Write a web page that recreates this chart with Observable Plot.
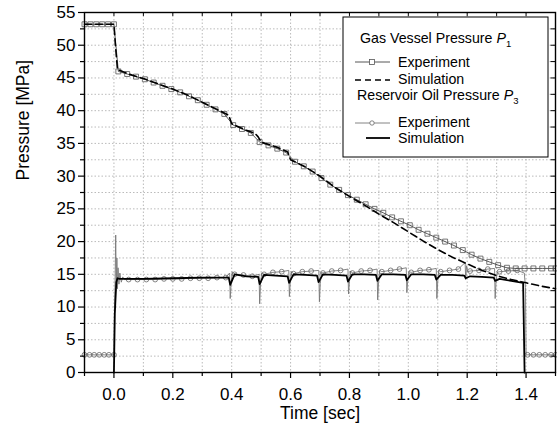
<!DOCTYPE html>
<html>
<head>
<meta charset="utf-8">
<script src="https://cdn.jsdelivr.net/npm/d3@7"></script>
<script src="https://cdn.jsdelivr.net/npm/@observablehq/plot@0.6"></script>
<style>
  html, body { margin: 0; padding: 0; background: #fff; }
  #chart { position: relative; width: 557px; height: 435px; }
  svg text { font-family: "Liberation Sans", Arial, sans-serif; }
</style>
</head>
<body>
<div id="chart"></div>
<script>
// ---- Gas vessel pressure P1, experiment (squares) ----
const p1ExpT = [-0.1, -0.08, -0.06, -0.04, -0.02, 0.0, 0.015, 0.045, 0.075, 0.105, 0.135, 0.165, 0.195, 0.225, 0.255, 0.285, 0.315, 0.345, 0.375, 0.405, 0.435, 0.465, 0.495, 0.525, 0.555, 0.585, 0.615, 0.645, 0.675, 0.705, 0.735, 0.765, 0.795, 0.825, 0.855, 0.885, 0.915, 0.945, 0.975, 1.005, 1.035, 1.065, 1.095, 1.125, 1.155, 1.185, 1.215, 1.245, 1.275, 1.305, 1.335, 1.365, 1.395, 1.425, 1.455, 1.485, 1.5];
const p1ExpV = [53.2, 53.2, 53.2, 53.2, 53.2, 53.2, 46.0, 45.6, 45.2, 44.8, 44.3, 43.8, 43.3, 42.8, 42.2, 41.6, 40.9, 40.2, 39.5, 37.8, 37.2, 36.6, 35.2, 34.7, 34.2, 33.6, 32.2, 31.5, 30.7, 29.7, 28.7, 27.9, 27.1, 26.4, 25.7, 25.0, 24.4, 23.7, 23.1, 22.5, 21.8, 21.2, 20.6, 20.0, 19.4, 18.7, 18.0, 17.4, 16.9, 16.4, 16.0, 15.9, 15.9, 15.9, 15.9, 15.9, 15.9];

// ---- Gas vessel pressure P1, simulation (dashed) ----
const p1SimT = [-0.1, 0.0, 0.005, 0.012, 0.05, 0.1, 0.15, 0.2, 0.25, 0.3, 0.35, 0.39, 0.40, 0.45, 0.48, 0.49, 0.5, 0.55, 0.59, 0.6, 0.65, 0.7, 0.75, 0.8, 0.85, 0.9, 0.95, 1.0, 1.05, 1.1, 1.15, 1.2, 1.25, 1.3, 1.35, 1.4, 1.45, 1.5];
const p1SimV = [53.2, 53.2, 50.0, 46.3, 45.6, 44.9, 44.1, 43.3, 42.4, 41.3, 40.2, 39.3, 38.0, 37.0, 36.5, 36.0, 35.2, 34.5, 33.7, 32.5, 31.4, 30.0, 28.3, 26.9, 25.6, 24.2, 22.9, 21.5, 20.1, 18.8, 17.6, 16.6, 15.6, 14.8, 14.2, 13.7, 13.2, 12.8];

// ---- Reservoir oil pressure P3, experiment (circles) ----
const p3ExpT = [-0.1, -0.083, -0.067, -0.05, -0.033, -0.017, 0.0, 0.05, 0.08, 0.11, 0.14, 0.17, 0.2, 0.23, 0.26, 0.29, 0.32, 0.35, 0.38, 0.41, 0.44, 0.47, 0.51, 0.54, 0.57, 0.61, 0.64, 0.67, 0.71, 0.74, 0.77, 0.81, 0.84, 0.87, 0.91, 0.94, 0.97, 1.01, 1.04, 1.07, 1.11, 1.14, 1.17, 1.21, 1.24, 1.27, 1.31, 1.34, 1.37, 1.405, 1.425, 1.445, 1.465, 1.485, 1.5];
const p3ExpV = [2.7, 2.7, 2.7, 2.7, 2.7, 2.7, 2.7, 14.2, 14.2, 14.2, 14.2, 14.3, 14.3, 14.3, 14.4, 14.4, 14.4, 14.5, 14.5, 15.0, 14.9, 14.7, 15.0, 15.3, 15.4, 15.1, 15.4, 15.5, 15.2, 15.5, 15.6, 15.2, 15.5, 15.6, 15.4, 15.6, 15.8, 15.3, 15.6, 15.7, 15.4, 15.6, 15.8, 15.5, 15.6, 15.8, 15.4, 15.5, 15.6, 2.7, 2.7, 2.7, 2.7, 2.7, 2.7];
// transient spikes of the measured P3 trace (line only, no markers)
const p3NoiseT = [0.002, 0.004, 0.006, 0.008, 0.010, 0.012, 0.014, 0.017, 0.020, 0.025, 0.030, 0.035,
  0.393, 0.395, 0.398, 0.402, 0.493, 0.495, 0.498, 0.502, 0.594, 0.596, 0.599, 0.603, 0.696, 0.698, 0.701, 0.705,
  0.795, 0.797, 0.800, 0.804, 0.894, 0.896, 0.899, 0.903, 0.993, 0.995, 0.998, 1.002, 1.095, 1.097, 1.100, 1.104,
  1.193, 1.195, 1.198, 1.202, 1.293, 1.295, 1.298, 1.302, 1.394, 1.398, 1.400];
const p3NoiseV = [10.0, 14.0, 21.0, 13.0, 17.5, 12.8, 16.0, 13.5, 15.2, 13.8, 14.6, 14.2,
  15.2, 11.3, 13.6, 15.4, 15.0, 10.5, 13.5, 15.2, 15.6, 11.6, 13.8, 15.4, 15.6, 10.8, 13.6, 15.3,
  15.8, 12.0, 13.9, 15.5, 15.8, 11.1, 13.8, 15.6, 16.0, 12.2, 14.0, 15.4, 15.9, 11.3, 14.0, 15.6,
  16.8, 14.2, 16.3, 15.4, 15.9, 11.3, 13.9, 15.3, 15.2, 13.0, 2.7];

// ---- Reservoir oil pressure P3, simulation (solid) ----
const p3SimT = [0.0, 0.003, 0.008, 0.012, 0.02, 0.1, 0.2, 0.3, 0.39, 0.395, 0.41, 0.45, 0.49, 0.495, 0.51, 0.55, 0.59, 0.595, 0.61, 0.65, 0.69, 0.695, 0.71, 0.75, 0.79, 0.795, 0.81, 0.85, 0.89, 0.895, 0.91, 0.95, 0.99, 0.995, 1.01, 1.05, 1.09, 1.095, 1.11, 1.15, 1.19, 1.195, 1.21, 1.25, 1.29, 1.295, 1.31, 1.35, 1.39, 1.395];
const p3SimV = [0.0, 9.0, 13.8, 14.4, 14.3, 14.3, 14.4, 14.5, 14.5, 13.4, 15.0, 14.7, 14.6, 13.5, 14.9, 14.8, 14.7, 13.7, 15.0, 14.9, 14.8, 13.8, 15.0, 14.9, 14.8, 13.9, 15.0, 15.0, 14.9, 14.0, 15.0, 15.0, 14.9, 14.1, 15.0, 15.0, 14.9, 14.2, 14.9, 14.9, 14.8, 14.4, 14.7, 14.6, 14.5, 14.0, 14.3, 14.0, 13.7, 0.0];

// ---- axis ticks ----
const xMajor = [0.0, 0.2, 0.4, 0.6, 0.8, 1.0, 1.2, 1.4];
const xMinor = [-0.1, 0.1, 0.3, 0.5, 0.7, 0.9, 1.1, 1.3, 1.5];
const yMajor = [0, 5, 10, 15, 20, 25, 30, 35, 40, 45, 50, 55];
const yMinor = [2.5, 7.5, 12.5, 17.5, 22.5, 27.5, 32.5, 37.5, 42.5, 47.5, 52.5];

const zip = (T, V) => T.map((t, i) => ({t, v: V[i]}));
const p1Exp = zip(p1ExpT, p1ExpV);
const p1Sim = zip(p1SimT, p1SimV);
const p3Base = zip(p3ExpT, p3ExpV);
const p3ExpLine = p3Base.concat(zip(p3NoiseT, p3NoiseV)).sort((a, b) => a.t - b.t);
const p3Sim = zip(p3SimT, p3SimV);
const xGrid = xMajor.concat(xMinor);
const yGrid = yMajor.concat(yMinor);

const plot = Plot.plot({
  width: 557,
  height: 435,
  marginLeft: 84,
  marginRight: 2,
  marginTop: 12,
  marginBottom: 63,
  style: {fontFamily: "'Liberation Sans', Arial, sans-serif", background: "#fff", overflow: "visible"},
  x: {domain: [-0.1, 1.5]},
  y: {domain: [0, 55]},
  marks: [
    // grid
    Plot.ruleX(xGrid, {x: d => d, stroke: "#aaa", strokeWidth: 0.8, strokeDasharray: "1.5,2"}),
    Plot.ruleY(yGrid, {y: d => d, stroke: "#aaa", strokeWidth: 0.8, strokeDasharray: "1.5,2"}),
    // P3 experiment
    Plot.line(p3ExpLine, {x: "t", y: "v", stroke: "#777", strokeWidth: 0.9}),
    Plot.dot(p3Base, {x: "t", y: "v", r: 2.4, stroke: "#666", strokeWidth: 0.8, fill: "none"}),
    // P3 simulation
    Plot.line(p3Sim, {x: "t", y: "v", stroke: "#000", strokeWidth: 1.8}),
    // P1 experiment
    Plot.line(p1Exp, {x: "t", y: "v", stroke: "#444", strokeWidth: 0.9}),
    Plot.dot(p1Exp, {x: "t", y: "v", symbol: "square", r: 2.8, stroke: "#555", strokeWidth: 0.8, fill: "none"}),
    // P1 simulation
    Plot.line(p1Sim, {x: "t", y: "v", stroke: "#000", strokeWidth: 1.6, strokeDasharray: "7,4"}),
    // axes
    Plot.axisX(xMajor, {anchor: "bottom", tickSize: 6, tickPadding: 9, fontSize: 17, tickFormat: d => d.toFixed(1), label: null, stroke: "#000", strokeWidth: 1.2}),
    Plot.axisX(xMinor, {anchor: "bottom", tickSize: 4, tickFormat: () => "", label: null, stroke: "#000", strokeWidth: 1.2}),
    Plot.axisY(yMajor, {anchor: "left", tickSize: 6, tickPadding: 3, fontSize: 17, label: null, stroke: "#000", strokeWidth: 1.2}),
    Plot.axisY(yMinor, {anchor: "left", tickSize: 4, tickFormat: () => "", label: null, stroke: "#000", strokeWidth: 1.2}),
    // mirror ticks on top and right
    Plot.ruleX(xGrid, {x: d => d, y1: 55, y2: 54.4, stroke: "#000", strokeWidth: 1}),
    Plot.ruleY(yGrid, {y: d => d, x1: 1.5, x2: 1.485, stroke: "#000", strokeWidth: 1}),
    Plot.frame({stroke: "#000", strokeWidth: 1.4}),
    // axis titles
    Plot.text(["Time [sec]"], {frameAnchor: "bottom", lineAnchor: "middle", dy: 41, fontSize: 17.5, fill: "#000"}),
    Plot.text(["Pressure [MPa]"], {frameAnchor: "left", dx: -61, dy: -12, rotate: -90, fontSize: 17.5, fill: "#000"})
  ]
});

document.getElementById("chart").appendChild(plot);

// ---- legend box ----
const svg = d3.select(plot);
const g = svg.append("g")
  .attr("font-family", "'Liberation Sans', Arial, sans-serif")
  .attr("font-size", 14.2).attr("fill", "#000").attr("text-anchor", "start");
g.append("rect").attr("x", 343).attr("y", 17).attr("width", 205).attr("height", 140)
  .attr("fill", "#fff").attr("stroke", "#000").attr("stroke-width", 1);

function title(x, y, text, sub) {
  const t = g.append("text").attr("x", x).attr("y", y);
  t.append("tspan").text(text + " ");
  t.append("tspan").attr("font-style", "italic").text("P");
  t.append("tspan").attr("font-size", 9.5).attr("dy", 4).text(sub);
}
title(360, 43, "Gas Vessel Pressure", "1");
title(357, 100, "Reservoir Oil Pressure", "3");

// Experiment P1
g.append("line").attr("x1", 355).attr("x2", 390).attr("y1", 62).attr("y2", 62).attr("stroke", "#444").attr("stroke-width", 0.9);
g.append("rect").attr("x", 369.5).attr("y", 59.5).attr("width", 5).attr("height", 5).attr("fill", "#fff").attr("stroke", "#555").attr("stroke-width", 0.8);
g.append("text").attr("x", 398).attr("y", 67).text("Experiment");
// Simulation P1
g.append("line").attr("x1", 355).attr("x2", 390).attr("y1", 80).attr("y2", 80).attr("stroke", "#000").attr("stroke-width", 1.4).attr("stroke-dasharray", "6,4");
g.append("text").attr("x", 398).attr("y", 84).text("Simulation");
// Experiment P3
g.append("line").attr("x1", 355).attr("x2", 390).attr("y1", 123).attr("y2", 123).attr("stroke", "#777").attr("stroke-width", 0.9);
g.append("circle").attr("cx", 372).attr("cy", 123).attr("r", 2.2).attr("fill", "#fff").attr("stroke", "#666").attr("stroke-width", 0.8);
g.append("text").attr("x", 398).attr("y", 127).text("Experiment");
// Simulation P3
g.append("line").attr("x1", 366).attr("x2", 390).attr("y1", 138).attr("y2", 138).attr("stroke", "#000").attr("stroke-width", 1.8);
g.append("text").attr("x", 398).attr("y", 143).text("Simulation");
</script>
</body>
</html>
